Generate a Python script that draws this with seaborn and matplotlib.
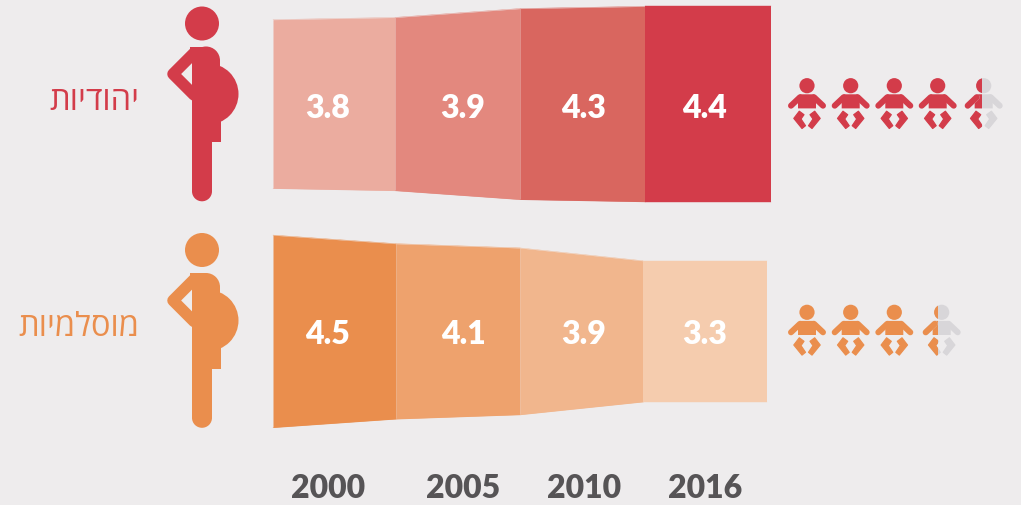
import matplotlib.pyplot as plt
from matplotlib.patches import Circle, Polygon, Rectangle, Wedge
import seaborn as sns
import numpy as np

#%% data

years = ['2000', '2005', '2010', '2016']
jewish_values = [3.8, 3.9, 4.3, 4.4]
muslim_values = [4.5, 4.1, 3.9, 3.3]
jewish_label = 'יהודיות'
muslim_label = 'מוסלמיות'

#%% styles

bg = '#EEECED'
red = '#D33C4A'
orange = '#EA8E4D'
grey = '#D8D6D9'
jewish_colors = ['#EBAC9F', '#E3887E', '#D9665F', '#D33C4A']
muslim_colors = ['#EA8E4D', '#EEA26D', '#F1B68D', '#F5CCAE']

W, H = 1021, 506

sns.set_theme(style='white', rc={'figure.facecolor': bg, 'axes.facecolor': 'none'})
plt.rcParams['font.family'] = ['Lato', 'DejaVu Sans']

fig = plt.figure(figsize=(W / 100, H / 100), dpi=100)

# overlay in pixels for the pictograms and the text
px = fig.add_axes([0, 0, 1, 1])
px.set_xlim(0, W)
px.set_ylim(H, 0)
px.axis('off')


def pt(n):
    return n * 0.72


def draw_bands(values, colors, edges, centre, scale):
    # one axes per row, x in pixels and y in the values themselves
    half = 125
    ax = fig.add_axes([0, 1 - (centre + half) / H, 1, 2 * half / H])
    ax.set_xlim(0, W)
    ax.set_ylim(-half / scale, half / scale)
    ax.axis('off')
    ends = values[1:] + values[-1:]
    for i, c in enumerate(colors):
        xs = [edges[i], edges[i + 1]]
        top = np.array([values[i], ends[i]]) / 2
        sns.lineplot(x=xs, y=top, color=c, lw=0.3, ax=ax, estimator=None, legend=False)
        sns.lineplot(x=xs, y=-top, color=c, lw=0.3, ax=ax, estimator=None, legend=False)
        ax.fill_between(xs, -top, top, color=c, lw=0)


def draw_woman(c, dy):
    px.add_patch(Circle((202, 24.5 + dy), 17, color=c, lw=0))
    px.plot([194, 173, 194], [54 + dy, 75 + dy, 96 + dy], color=c, lw=pt(11.5),
            solid_joinstyle='round', solid_capstyle='round')
    px.add_patch(Rectangle((190, 47.5 + dy), 16, 15, color=c, lw=0))
    px.add_patch(Circle((206, 61.5 + dy), 14, color=c, lw=0))
    px.add_patch(Rectangle((192, 61 + dy), 28, 82, color=c, lw=0))
    px.add_patch(Rectangle((212, 120 + dy), 9, 23, color=c, lw=0))
    px.add_patch(Wedge((208, 95 + dy), 30.5, -90, 90, color=c, lw=0))
    px.add_patch(Rectangle((192, 140 + dy), 20, 52, color=c, lw=0))
    px.add_patch(Circle((202, 192.3 + dy), 10, color=c, lw=0))


def draw_baby(cx, cy, c, clip=None):
    arts = [px.add_patch(Circle((cx, cy), 7.6, color=c, lw=0))]
    arts.append(px.add_patch(Polygon([(cx - 7, cy + 8.6), (cx + 7, cy + 8.6), (cx + 9, cy + 11),
                                      (cx + 9, cy + 22.7), (cx - 9, cy + 22.7), (cx - 9, cy + 11)],
                                     color=c, lw=0)))
    for s in [-1, 1]:
        arts += px.plot([cx + s * 7, cx + s * 16], [cy + 11.5, cy + 20], color=c, lw=pt(6),
                        solid_capstyle='round')
        arts.append(px.add_patch(Polygon([(cx + s * 7.7, cy + 25.5), (cx + s * 13.2, cy + 32.7),
                                          (cx + s * 5, cy + 42.8), (cx + s * 1.5, cy + 40),
                                          (cx + s * 6, cy + 33.3), (cx + s * 3, cy + 29)],
                                         fc=c, ec=c, lw=pt(1.2), joinstyle='round')))
    if clip is not None:
        for a in arts:
            a.set_clip_path(clip)


def draw_babies(centres, cy, c, cut):
    for cx in centres[:-1]:
        draw_baby(cx, cy, c)
    draw_baby(centres[-1], cy, grey)
    box = Rectangle((centres[-1] - 30, cy - 15), 30 + cut, 70, transform=px.transData)
    draw_baby(centres[-1], cy, c, clip=box)


#%% plotting

draw_bands(jewish_values, jewish_colors, [273, 395, 520, 645, 771], 105, 44.4)
draw_bands(muslim_values, muslim_colors, [273, 396, 520, 643, 767], 332.3, 42.75)

draw_woman(red, 0)
draw_woman(orange, 226.5)

draw_babies([807, 850.7, 894.3, 937.7, 983.7], 86.7, red, -1.7)
draw_babies([807, 850.7, 894.3, 941.7], 313.3, orange, -3.7)

text_x = [328, 463, 584, 705]
ax_font = dict(family='Lato', weight='heavy', fontsize=23, ha='center', va='center', zorder=10)
top = fig.add_axes([0, 0, 1, 1])
top.set_xlim(0, W)
top.set_ylim(H, 0)
top.axis('off')
for x, v, m, y in zip(text_x, jewish_values, muslim_values, years):
    top.text(x, 108, '{:.1f}'.format(v), color='white', **ax_font)
    top.text(x, 334, '{:.1f}'.format(m), color='white', **ax_font)
    top.text(x, 488.5, y, color='#565456', **ax_font)

# matplotlib has no bidi, so the hebrew goes in reversed
heb = dict(family=['Open Sans', 'DejaVu Sans'], fontsize=23.5, ha='right', va='center')
top.text(139.5, 101, jewish_label[::-1], color=red, **heb)
top.text(139.5, 327, muslim_label[::-1], color=orange, **heb)

fig.savefig('out.png', dpi=100, facecolor=bg)
